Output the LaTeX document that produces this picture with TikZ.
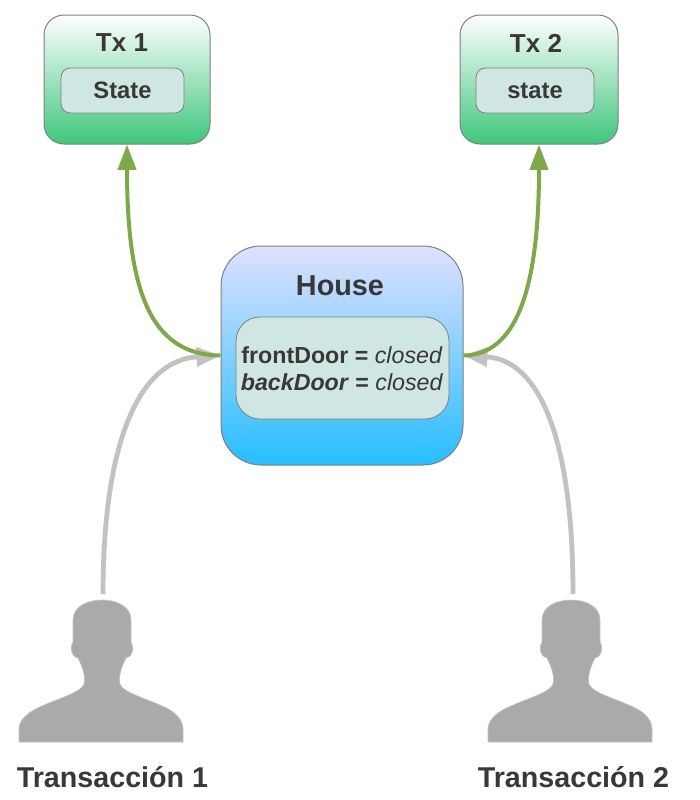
\documentclass[tikz,border=0pt]{standalone}
\usepackage{fontspec}
\setmainfont{Liberation Sans}
\usepackage{xcolor}
\usetikzlibrary{arrows.meta}
\definecolor{ink}{HTML}{383838}
\definecolor{statefill}{HTML}{D0E6E3}
\definecolor{edgegrey}{HTML}{808080}
\definecolor{arrowgreen}{HTML}{7EA84A}
\definecolor{arrowgrey}{HTML}{C2C2C2}
\definecolor{persongrey}{HTML}{A9AAA9}
\begin{document}
\begin{tikzpicture}[x=0.75pt,y=-0.75pt,
  txbox/.style={draw=edgegrey,line width=0.75pt,rounded corners=15pt,top color=white,bottom color=green!55!cyan!70!black!75!white,minimum height=96.75pt},
  housebox/.style={draw=edgegrey,line width=0.75pt,rounded corners=30pt,top color=blue!12,bottom color=cyan!70!blue!85,minimum width=181.5pt,minimum height=164.25pt},
  statebox/.style={draw=edgegrey,line width=0.6pt,fill=statefill,text=ink,font=\fontsize{17.8pt}{21pt}\selectfont\bfseries,inner sep=0pt},
  title/.style={text=ink,font=\fontsize{19.5pt}{23pt}\selectfont\bfseries,inner sep=0pt},
  userlabel/.style={text=ink,font=\fontsize{21.5pt}{26pt}\selectfont\bfseries,inner sep=0pt},
  greenarrow/.style={draw=arrowgreen,line width=3pt,-{Triangle[length=19pt,width=13.5pt,fill=arrowgreen]}},
  greyarrow/.style={draw=arrowgrey,line width=3.6pt,-{Triangle[length=18pt,width=14pt,fill=arrowgrey]}},
  person/.pic={\fill[persongrey,draw=persongrey!70!white,line width=0.5pt] (-83,0) -- (-83,-14) .. controls (-82,-24) and (-72,-31) .. (-60,-36)
    .. controls (-45,-43) and (-20,-50) .. (-18,-58) .. controls (-16,-66) and (-20,-76) .. (-24,-84)
    .. controls (-32,-86) and (-32,-96) .. (-29,-100) -- (-29,-122) .. controls (-29,-136) and (-14,-142) .. (0,-142)
    .. controls (14,-142) and (29,-136) .. (29,-122) -- (29,-100) .. controls (32,-96) and (32,-86) .. (24,-84)
    .. controls (20,-76) and (16,-66) .. (18,-58) .. controls (20,-50) and (45,-43) .. (60,-36)
    .. controls (72,-31) and (80,-24) .. (81,-14) -- (81,0) -- cycle;}]
\useasboundingbox (0,0) rectangle (700,800);

% transactions
\node[txbox,minimum width=124.5pt] (tx1) at (127,79.5) {};
\node[txbox,minimum width=118.5pt] (tx2) at (539,79.5) {};
\node[title] (tx1title) at (122,43) {Tx 1};
\node[title] (tx2title) at (536,43) {Tx 2};
\node[statebox,rounded corners=7pt,minimum width=92.25pt,minimum height=33.75pt] (state1) at (122.5,90.5) {State};
\node[statebox,rounded corners=7pt,minimum width=88.5pt,minimum height=33.75pt] (state2) at (535,90.5) {state};

% house
\node[housebox] (house) at (342,355.5) {};
\node[title,font=\fontsize{21.6pt}{26pt}\selectfont\bfseries] (housetitle) at (340,286) {House};
\node[statebox,rounded corners=18pt,minimum width=159.75pt,minimum height=76.5pt] (housestate) at (342.5,368) {};
\node[text=ink,font=\fontsize{17.4pt}{20.25pt}\selectfont,align=center,inner sep=0pt] (doors) at (342,368.5) {\textbf{frontDoor =} \textit{closed}\\\textbf{\textit{backDoor} =} \textit{closed}};

% users
\pic at (102,742) {person};
\pic at (571,742) {person};
\coordinate (user1) at (103,594);
\coordinate (user2) at (573,594);
\node[userlabel] (user1label) at (112.5,777) {Transacción 1};
\node[userlabel] (user2label) at (573.5,777) {Transacción 2};

\draw[greyarrow] (user1) .. controls (103,440) and (140,360) .. (house.west);
\draw[greyarrow] (user2) .. controls (573,440) and (540,360) .. (house.east);
\draw[greenarrow] (house.west) .. controls (150,355) and (127,290) .. (tx1.south);
\draw[greenarrow] (house.east) .. controls (516,355) and (539,290) .. (tx2.south);
\end{tikzpicture}
\end{document}
